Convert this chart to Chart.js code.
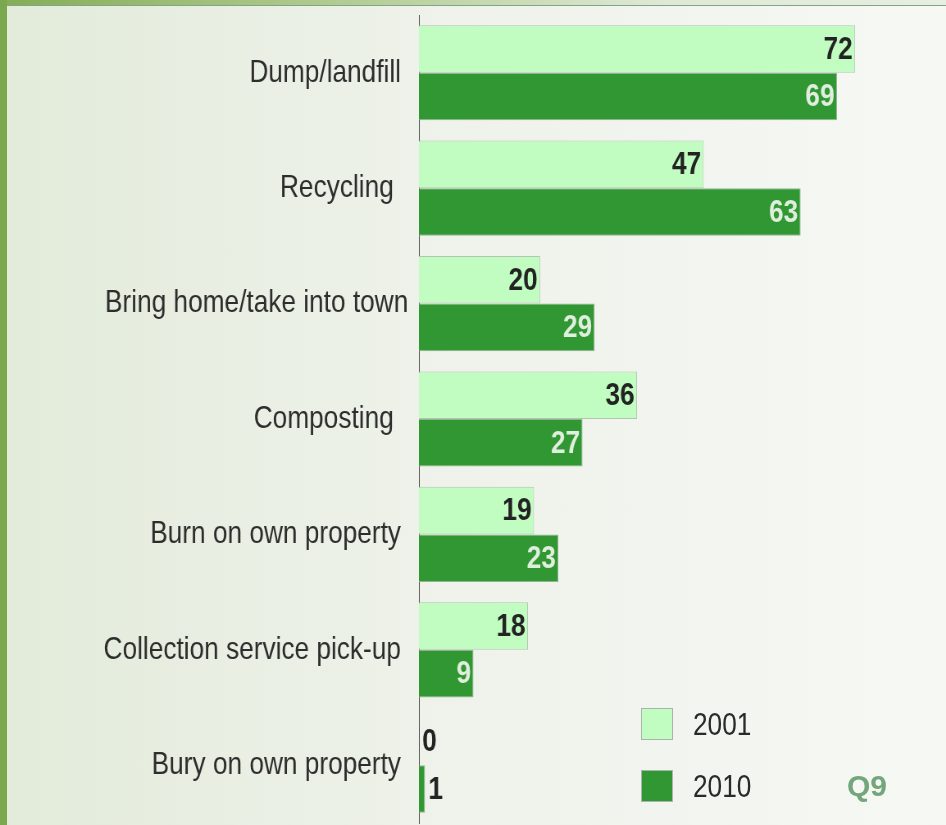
<!DOCTYPE html>
<html>
<head>
<meta charset="utf-8">
<script src="https://cdn.jsdelivr.net/npm/chart.js@4.4.1/dist/chart.umd.min.js"></script>
<style>
    html, body { margin: 0; padding: 0; }
    body {
        width: 946px;
        height: 825px;
        overflow: hidden;
        position: relative;
        background: linear-gradient(90deg, #e2ebda 0%, #eef2ea 45%, #f6f8f4 100%);
    }
    .top-band {
        position: absolute; left: 0; top: 0; width: 946px; height: 5px;
        background: linear-gradient(90deg, #84ad55 0%, #b7cf9a 40%, #dfe8d6 70%, #e8eee2 100%);
        border-bottom: 1px solid #7fa882;
    }
    .left-band {
        position: absolute; left: 0; top: 0; width: 7px; height: 825px;
        background: #7ba84f;
    }
    /* el texto original es estrecho: se comprime todo el lienzo en horizontal */
    #wrap {
        position: absolute; left: 0; top: 0; width: 1154px; height: 825px;
        transform: scaleX(0.8198);
        transform-origin: 0 0;
    }
    .legend-item { position: absolute; left: 641px; height: 32px; }
    .legend-box {
        position: absolute; left: 0; top: 0; width: 30px; height: 30px;
        border: 1px solid #a9b5a9;
    }
    .legend-text {
        position: absolute; left: 52px; top: -2px;
        font-family: "Liberation Sans", Arial, sans-serif;
        font-size: 32px; color: #2a2a2a; white-space: nowrap;
        transform: scaleX(0.82);
        transform-origin: 0 0;
    }
    .q9 {
        position: absolute; left: 847px; top: 769px;
        font-family: "Liberation Sans", Arial, sans-serif;
        font-weight: bold; font-size: 30px; color: #74a67c;
    }
</style>
</head>
<body>
<div class="top-band"></div>
<div class="left-band"></div>
<div id="wrap"><canvas id="chart" width="1154" height="825"></canvas></div>
<div id="legend"></div>
<div class="q9">Q9</div>

<script>
// datos del grafico
const categories = [
    'Dump/landfill ',
    'Recycling  ',
    'Bring home/take into town',
    'Composting  ',
    'Burn on own property ',
    'Collection service pick-up ',
    'Bury on own property '
];
const seriesNames = ['2001', '2010'];
const values2001 = [72, 47, 20, 36, 19, 18, 0];
const values2010 = [69, 63, 29, 27, 23, 9, 1];

const colors = ['#c1fcc1', '#319733'];
const labelColors = ['#232323', '#dfeedd'];
const font = '"Liberation Sans", Arial, sans-serif';

// etiquetas de valor al final de cada barra
const valueLabels = {
    id: 'valueLabels',
    afterDatasetsDraw(chart) {
        const ctx = chart.ctx;
        ctx.save();
        ctx.font = 'bold 32px ' + font;
        ctx.textBaseline = 'middle';
        chart.data.datasets.forEach(function (ds, i) {
            const meta = chart.getDatasetMeta(i);
            meta.data.forEach(function (bar, j) {
                const text = String(ds.data[j]);
                const w = ctx.measureText(text).width;
                const barW = bar.x - bar.base;
                if (barW > w + 10) {
                    ctx.textAlign = 'right';
                    ctx.fillStyle = labelColors[i];
                    ctx.fillText(text, bar.x - 3, bar.y + 1);
                } else {
                    ctx.textAlign = 'left';
                    ctx.fillStyle = labelColors[0];
                    ctx.fillText(text, bar.x + 4, bar.y + 1);
                }
            });
        });
        ctx.restore();
    }
};

const ctx = document.getElementById('chart');

new Chart(ctx, {
    type: 'bar',
    data: {
        labels: categories,
        datasets: [
            {
                label: seriesNames[0],
                data: values2001,
                backgroundColor: colors[0],
                borderColor: '#b3c4b3',
                borderWidth: 1,
                borderSkipped: 'start'
            },
            {
                label: seriesNames[1],
                data: values2010,
                backgroundColor: colors[1],
                borderColor: '#8fb38f',
                borderWidth: 1,
                borderSkipped: 'start'
            }
        ]
    },
    options: {
        indexAxis: 'y',
        responsive: false,
        animation: false,
        layout: {
            padding: { top: 15, bottom: 2, left: 0, right: 0 }
        },
        datasets: {
            bar: {
                categoryPercentage: 0.824,
                barPercentage: 1
            }
        },
        plugins: {
            legend: { display: false },
            tooltip: { enabled: false }
        },
        scales: {
            x: {
                display: false,
                min: 0,
                max: 87
            },
            y: {
                afterFit: function (scale) {
                    scale.width = 511;
                    scale.paddingTop = 0;
                    scale.paddingBottom = 0;
                },
                grid: { display: false, drawTicks: false },
                border: { display: true, color: '#4a4a4a', width: 1 },
                ticks: {
                    padding: 13,
                    color: '#2d2d2d',
                    font: { family: font, size: 32 }
                }
            }
        }
    },
    plugins: [valueLabels]
});

// leyenda en html
const legend = document.getElementById('legend');
const legendTops = [708, 770];
seriesNames.forEach(function (name, i) {
    const item = document.createElement('div');
    item.className = 'legend-item';
    item.style.top = legendTops[i] + 'px';
    item.innerHTML =
        '<div class="legend-box" style="background:' + colors[i] + '"></div>' +
        '<div class="legend-text">' + name + '</div>';
    legend.appendChild(item);
});
</script>
</body>
</html>
